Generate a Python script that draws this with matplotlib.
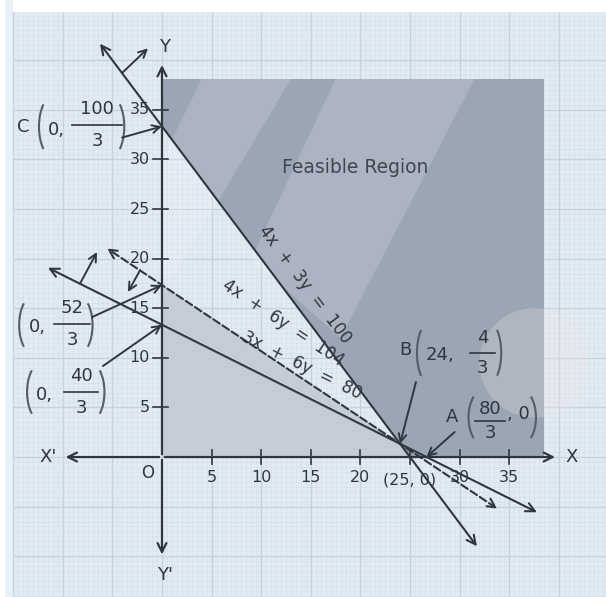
import numpy as np
import matplotlib
matplotlib.use('Agg')
import matplotlib.pyplot as plt
from matplotlib.patches import Polygon, Rectangle, Arc

plt.rcParams['font.family'] = ['DejaVu Sans']

# constraint lines a*x + b*y = c
line_a = [4, 4, 3]
line_b = [3, 6, 6]
line_c = [100, 104, 80]
line_names = ['4x + 3y = 100', '4x + 6y = 104', '3x + 6y = 80']
line_styles = ['-', '--', '-']
line_x_ends = [(-6.25, 31.75), (-5.54, 33.8), (-11.5, 37.8)]
# where the little "side" arrows start (x on the line) and point to
side_x = [-4.03, -2.22, -8.27]
side_to = [(-1.41, 41.2), (-3.43, 16.63), (-6.55, 20.67)]
# line label positions
name_xy = [(14.4, 17.4), (12.2, 13.5), (14.1, 9.2)]

x_ticks = [5, 10, 15, 20, 30, 35]
y_ticks = [5, 10, 15, 20, 25, 30, 35]

# corner points
pt_c = (0, 100 / 3)
pt_52 = (0, 52 / 3)
pt_40 = (0, 40 / 3)
pt_b = (24, 4 / 3)
pt_a = (80 / 3, 0)
pt_25 = (25, 0)

ink = '#2f363f'
paren_ink = '#555d69'
paper = '#e2eaf2'
dark_fill = '#9ba6b4'
light_fill = '#c4ccd7'

fig = plt.figure(figsize=(6.06, 5.97), dpi=100)
ax = fig.add_axes([0, 0, 1, 1])
ax.set_xlim(-16.33, 44.76)
ax.set_ylim(-14.11, 46.07)
ax.axis('off')

# graph paper
ax.add_patch(Rectangle((-15.8, -14.2), 0.8, 61, color='#e8f0f8', lw=0, zorder=0))
ax.add_patch(Rectangle((-15.0, -14.2), 60, 59.1, color=paper, lw=0, zorder=0))
for g in np.arange(-15, 45, 0.5):
    major = abs(g % 5) < 1e-9
    ax.vlines(g, -14.2, 44.9, color='#c2d2e2' if major else '#d3dfeb',
              lw=0.9 if major else 0.45, zorder=1)
    ax.hlines(g, -15.0, 44.8, color='#c2d2e2' if major else '#d3dfeb',
              lw=0.9 if major else 0.45, zorder=1)

# shaded regions
ax.add_patch(Polygon([(0, 0), (0, 52 / 3), (26, 0)], closed=True,
                     color=light_fill, lw=0, zorder=2))
ax.add_patch(Polygon([(0, 100 / 3), (0, 38.1), (38.5, 38.1), (38.5, 0), (25, 0)],
                     closed=True, color=dark_fill, lw=0, zorder=2))

# watermark-like light bands
ax.add_patch(Polygon([(4.0, 38.1), (13.0, 38.1), (1.0, 18.0), (0, 18.0), (0, 30.0)],
                     closed=True, color='white', alpha=0.16, lw=0, zorder=2.5))
ax.add_patch(Polygon([(17.5, 38.1), (31.5, 38.1), (18.0, 12.0), (9.0, 20.0)],
                     closed=True, color='white', alpha=0.16, lw=0, zorder=2.5))
ax.add_patch(plt.Circle((37.5, 9.5), 5.5, color='#f2e8e0', alpha=0.25, lw=0, zorder=2.5))

# axes
arr = dict(arrowstyle='->', color=ink, lw=1.6, mutation_scale=16)
ax.annotate('', xy=(39.9, 0), xytext=(0, 0), arrowprops=arr, zorder=5)
ax.annotate('', xy=(-10.0, 0), xytext=(0, 0), arrowprops=arr, zorder=5)
ax.annotate('', xy=(0, 39.8), xytext=(0, 0), arrowprops=arr, zorder=5)
ax.annotate('', xy=(0, -10.1), xytext=(0, 0), arrowprops=arr, zorder=5)
ax.text(41.3, 0, 'X', fontsize=13, color=ink, ha='center', va='center', zorder=6)
ax.text(-11.5, 0, "X'", fontsize=13, color=ink, ha='center', va='center', zorder=6)
ax.text(0.3, 41.3, 'Y', fontsize=13, color=ink, ha='center', va='center', zorder=6)
ax.text(0.3, -11.9, "Y'", fontsize=13, color=ink, ha='center', va='center', zorder=6)
ax.text(-1.4, -1.6, 'O', fontsize=12, color=ink, ha='center', va='center', zorder=6)

for t in x_ticks + [25]:
    ax.plot([t, t], [-0.7, 0.7], color=ink, lw=1.2, zorder=5)
for t in x_ticks:
    ax.text(t, -2.1, str(t), fontsize=11.5, color=ink, ha='center', va='center', zorder=6)
ax.text(pt_25[0], -2.3, '(25, 0)', fontsize=11.5, color=ink, ha='center', va='center', zorder=6)
for t in y_ticks:
    ax.plot([-0.9, 0.6], [t, t], color=ink, lw=1.2, zorder=5)
    ax.text(-1.2, t, str(t), fontsize=11.5, color=ink, ha='right', va='center', zorder=6)

# constraint lines with arrows at both ends
for a, b, c, ls, (x0, x1), sx, st, nm, (nx, ny) in zip(
        line_a, line_b, line_c, line_styles, line_x_ends, side_x, side_to,
        line_names, name_xy):
    y0 = (c - a * x0) / b
    y1 = (c - a * x1) / b
    ax.annotate('', xy=(x0, y0), xytext=(x1, y1),
                arrowprops=dict(arrowstyle='<->', color=ink, lw=1.5, ls=ls,
                                mutation_scale=16, shrinkA=0, shrinkB=0), zorder=4)
    sy = (c - a * sx) / b
    ax.annotate('', xy=st, xytext=(sx, sy),
                arrowprops=dict(arrowstyle='->', color=ink, lw=1.4,
                                mutation_scale=14, shrinkA=0, shrinkB=0), zorder=4)
    ang = np.degrees(np.arctan2(-a, b))
    ax.text(nx, ny, nm.replace(' ', '  '), fontsize=12, color=ink, rotation=ang,
            rotation_mode='anchor', ha='center', va='center', zorder=6)

ax.text(19.5, 29.2, 'Feasible Region', fontsize=13.5, color='#3f4751',
        ha='center', va='center', zorder=6)


def paren(x, y, h, side):
    w = 3.0
    if side == 'l':
        ax.add_patch(Arc((x + w / 2, y), w, h / 0.906, theta1=115, theta2=245,
                         color=paren_ink, lw=1.5, zorder=6))
    else:
        ax.add_patch(Arc((x - w / 2, y), w, h / 0.906, theta1=-65, theta2=65,
                         color=paren_ink, lw=1.5, zorder=6))


def frac(x, y, num, den, bar, gap, size=13):
    ax.text(x, y + gap, num, fontsize=size, color=ink, ha='center', va='center', zorder=6)
    ax.text(x, y - gap, den, fontsize=size, color=ink, ha='center', va='center', zorder=6)
    ax.plot([x - bar / 2, x + bar / 2], [y, y], color=ink, lw=1.2, zorder=6)


def pointer(xy, start):
    ax.annotate('', xy=xy, xytext=start,
                arrowprops=dict(arrowstyle='->', color=ink, lw=1.4,
                                mutation_scale=14, shrinkA=0, shrinkB=0), zorder=6)


# C(0, 100/3)
ax.text(-14.0, 33.3, 'C', fontsize=13, color=ink, ha='center', va='center', zorder=6)
paren(-12.4, 33.3, 5.7, 'l')
ax.text(-10.6, 33.0, '0,', fontsize=13, color=ink, ha='center', va='center', zorder=6)
frac(-6.55, 33.5, '100', '3', 5.0, 1.6)
paren(-3.8, 33.3, 5.7, 'r')
pointer(pt_c, (-4.03, 32.2))

# (0, 52/3)
paren(-14.4, 13.3, 5.4, 'l')
ax.text(-12.6, 13.1, '0,', fontsize=13, color=ink, ha='center', va='center', zorder=6)
frac(-9.07, 13.4, '52', '3', 3.7, 1.6)
paren(-7.0, 13.3, 5.4, 'r')
pointer(pt_52, (-7.06, 14.1))

# (0, 40/3)
paren(-13.6, 6.55, 5.4, 'l')
ax.text(-11.9, 6.3, '0,', fontsize=13, color=ink, ha='center', va='center', zorder=6)
frac(-8.17, 6.55, '40', '3', 3.5, 1.6)
paren(-5.8, 6.55, 5.4, 'r')
pointer(pt_40, (-5.95, 9.17))

# B(24, 4/3)
ax.text(24.5, 10.8, 'B', fontsize=13, color=ink, ha='center', va='center', zorder=6)
paren(25.7, 10.5, 6.0, 'l')
ax.text(28.0, 10.3, '24,', fontsize=13, color=ink, ha='center', va='center', zorder=6)
frac(32.3, 10.5, '4', '3', 2.6, 1.5)
paren(34.2, 10.5, 6.0, 'r')
pointer(pt_b, (25.6, 7.56))

# A(80/3, 0)
ax.text(29.2, 4.0, 'A', fontsize=13, color=ink, ha='center', va='center', zorder=6)
paren(30.9, 4.0, 5.0, 'l')
frac(33.06, 3.63, '80', '3', 3.0, 1.2)
ax.text(35.9, 4.3, ', 0', fontsize=13, color=ink, ha='center', va='center', zorder=6)
paren(37.7, 4.0, 5.0, 'r')
pointer(pt_a, (29.5, 2.52))

fig.savefig('out.png', dpi=100, facecolor='white')
